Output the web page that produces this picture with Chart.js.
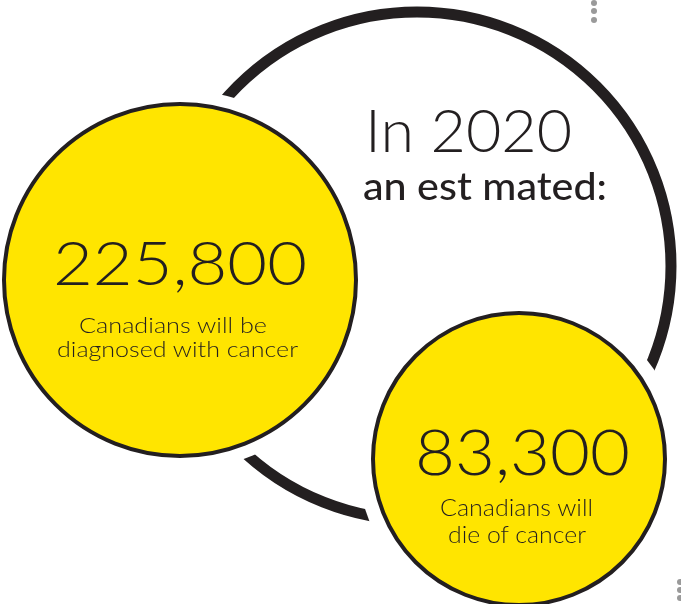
<!DOCTYPE html>
<html>
<head>
<meta charset="utf-8">
<script src="https://cdn.jsdelivr.net/npm/chart.js@4/dist/chart.umd.min.js"></script>
<style>
  html, body { margin: 0; padding: 0; background: #fff; }
  #wrap { position: relative; width: 681px; height: 604px; overflow: hidden; }
  #c { position: absolute; left: 0; top: 0; }
  #txt { position: absolute; left: 0; top: 0; }
  #txt text { font-family: Lato, "Open Sans", sans-serif; fill: #231f20; }
</style>
</head>
<body>
<div id="wrap">
  <canvas id="c" width="681" height="604"></canvas>
  <svg id="txt" width="681" height="604"></svg>
</div>
<script>
// figures
const labels = ['Canadians will be diagnosed with cancer', 'Canadians will die of cancer'];
const values = [225800, 83300];
const year = 2020;

// circle layout (canvas px)
const circleX = [180, 519];
const circleY = [280, 459];
const circleR = [176, 146];
const haloR = [190, 162];
const ring = { x: 417, y: 266, r: 254 };

const yellow = '#ffe500';
const ink = '#231f20';

const ctx = document.getElementById('c').getContext('2d');
new Chart(ctx, {
  type: 'bubble',
  data: {
    datasets: [
      {
        label: 'values',
        data: values.map((v, i) => ({ x: circleX[i], y: circleY[i], r: circleR[i] })),
        backgroundColor: yellow,
        borderColor: ink,
        borderWidth: 4,
        order: 1
      },
      {
        label: 'halo',
        data: values.map((v, i) => ({ x: circleX[i], y: circleY[i], r: haloR[i] })),
        backgroundColor: '#fff',
        borderWidth: 0,
        order: 2
      },
      {
        label: 'ring',
        data: [{ x: ring.x, y: ring.y, r: ring.r }],
        backgroundColor: 'rgba(0,0,0,0)',
        borderColor: ink,
        borderWidth: 11,
        order: 3
      },
      {
        label: 'dots',
        data: [{ x: 594, y: 3, r: 3 }, { x: 594, y: 11, r: 3 }, { x: 594, y: 20, r: 3 },
               { x: 680, y: 582, r: 3 }, { x: 680, y: 590, r: 3 }, { x: 680, y: 598, r: 3 }],
        backgroundColor: '#9a9a9a',
        borderWidth: 0,
        order: 4
      }
    ]
  },
  options: {
    responsive: false,
    animation: false,
    events: [],
    clip: false,
    layout: { padding: 0, autoPadding: false },
    plugins: { legend: { display: false }, tooltip: { enabled: false } },
    scales: {
      x: { type: 'linear', min: 0, max: 681, display: false },
      y: { type: 'linear', min: 0, max: 604, reverse: true, display: false }
    }
  }
});

// text overlay
const fmt = n => n.toLocaleString('en-US');
const words = labels.map(l => l.replace('Canadians will ', ''));
const texts = [
  { t: 'In ' + year, x: 365, y: 152, s: 60, w: 207, fw: 300 },
  { t: 'an est mated:', x: 363, y: 200, s: 38, w: 244, fw: 500 },
  { t: fmt(values[0]), x: 53, y: 285, s: 62, w: 254, fw: 300 },
  { t: 'Canadians will be', x: 79, y: 333, s: 22, w: 188, fw: 300 },
  { t: words[0].replace('be ', ''), x: 57, y: 357, s: 22, w: 241, fw: 300 },
  { t: fmt(values[1]), x: 415, y: 475, s: 64, w: 215, fw: 300 },
  { t: 'Canadians will', x: 440, y: 516, s: 23, w: 153, fw: 300 },
  { t: words[1], x: 448, y: 543, s: 23, w: 138, fw: 300 }
];
const svg = document.getElementById('txt');
texts.forEach(d => {
  const el = document.createElementNS('http://www.w3.org/2000/svg', 'text');
  el.setAttribute('x', d.x);
  el.setAttribute('y', d.y);
  el.setAttribute('font-size', d.s);
  el.setAttribute('font-weight', d.fw);
  el.setAttribute('textLength', d.w);
  el.setAttribute('lengthAdjust', 'spacingAndGlyphs');
  el.textContent = d.t;
  svg.appendChild(el);
});
</script>
</body>
</html>
